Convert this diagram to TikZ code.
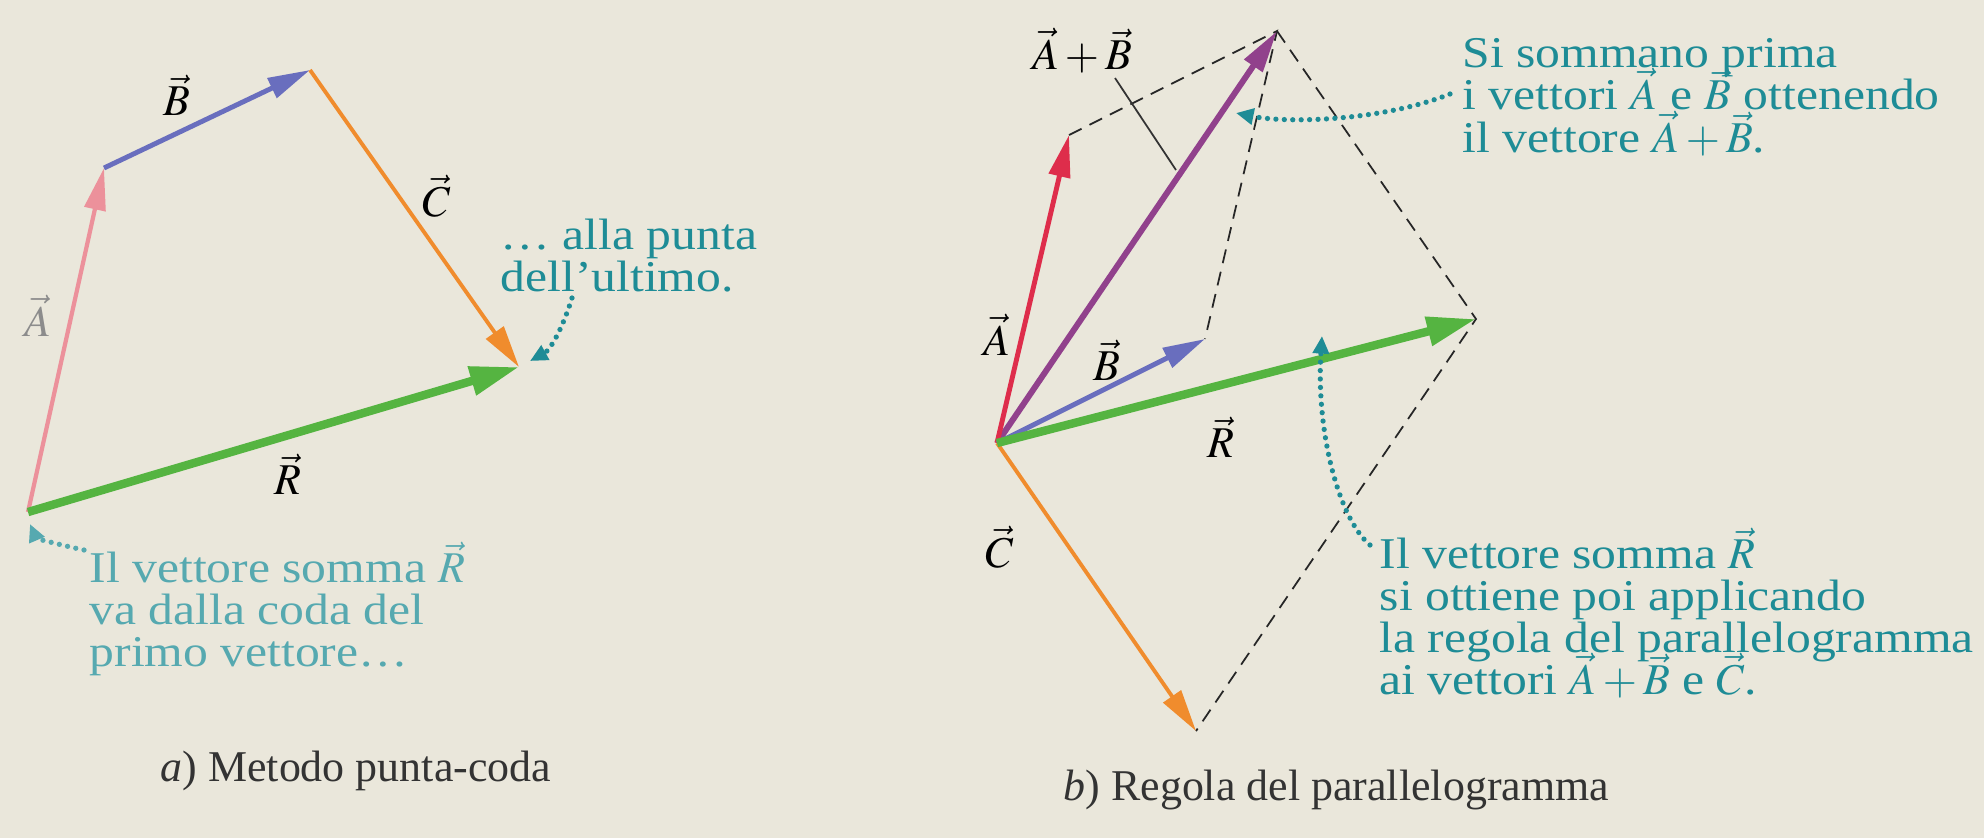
\documentclass[tikz,border=0pt]{standalone}
\usepackage{mathptmx}
\usepackage{fontspec}
\setmainfont{Liberation Serif}
\newfontfamily\widefamily{Liberation Serif}[FakeStretch=1.13]
\usepackage{xcolor}
\usepackage{tikz}
\usetikzlibrary{arrows.meta,calc}

\definecolor{paper}{RGB}{234,231,219}
\definecolor{vecA}{RGB}{222,45,75}
\definecolor{vecApale}{RGB}{236,145,155}
\definecolor{vecB}{RGB}{105,110,190}
\definecolor{vecC}{RGB}{240,140,45}
\definecolor{vecR}{RGB}{85,180,65}
\definecolor{vecS}{RGB}{145,65,140}
\definecolor{notecol}{RGB}{30,140,150}
\newcommand{\notefont}{\widefamily\fontsize{12.5}{12}\selectfont\lineskiplimit=-20pt}
\newcommand{\capfont}{\fontsize{12.5}{12}\selectfont}

\begin{document}
\begin{tikzpicture}[
        x=0.1mm, y=-0.1mm,
        vecarrow/.style={line width=1.4pt, -{Triangle[length=12pt,width=6pt]}},
        sumarrow/.style={line width=2.4pt, -{Triangle[length=14pt,width=8pt]}},
        guideline/.style={black!85, line width=0.5pt, dash pattern=on 4pt off 2.5pt},
        pointer/.style={notecol, line width=1.5pt, line cap=round,
                        dash pattern=on 0pt off 2.4pt, -{Triangle[length=5pt,width=4.5pt]}},
        lbl/.style={font=\capfont, inner sep=0pt},
        notetext/.style={font=\notefont, inner sep=0pt, text=notecol, align=left, anchor=north west},
        caption/.style={lbl, text=black!80, anchor=base west}
    ]
        % paper and frame of the page
        \fill[paper] (0,0) rectangle (1984,838);
        \useasboundingbox (0,0) rectangle (1984,838);

        % a) tip to tail: A, B, C and the sum R
        \coordinate (Oa)  at (28,512);
        \coordinate (Pa1) at ($(Oa)+(76,-344)$);
        \coordinate (Pa2) at ($(Pa1)+(206,-98)$);
        \coordinate (Pa3) at ($(Pa2)+(209,297)$);
        \draw[vecarrow, vecApale, line width=1.2pt] (Oa) -- (Pa1);
        \draw[vecarrow, vecB] (Pa1) -- (Pa2);
        \draw[vecarrow, vecC, line width=1.1pt] (Pa2) -- (Pa3);
        \draw[sumarrow, vecR] (Oa) -- (Pa3);
        \node[lbl, text=black!45] (labAa) at (38,316) {$\vec{A}$};
        \node[lbl] (labBa) at (177,95)  {$\vec{B}$};
        \node[lbl] (labCa) at (437,196) {$\vec{C}$};
        \node[lbl] (labRa) at (288,474) {$\vec{R}$};

        % a) notes
        \node[notetext, text=notecol!75!white] (noteTail) at (89,541)
            {Il vettore somma $\vec{R}$\\va dalla coda del\\primo vettore…};
        \node[notetext] (noteTip) at (500,218) {… alla punta\\dell’ultimo.};
        \coordinate (tailFrom) at (84,550);
        \coordinate (tailTo)   at (30,524);
        \coordinate (tipFrom)  at (572,298);
        \coordinate (tipTo)    at (530,361);
        \draw[pointer, notecol!75!white] (tailFrom) .. controls (60,545) and (36,538) .. (tailTo);
        \draw[pointer] (tipFrom) .. controls (562,330) and (550,350) .. (tipTo);

        % b) parallelogram rule
        \coordinate (Ob)  at (997,443);
        \coordinate (Ab)  at ($(Ob)+(72,-308)$);
        \coordinate (Bb)  at ($(Ob)+(208,-104)$);
        \coordinate (Sb)  at ($(Ab)+(208,-104)$);
        \coordinate (Cb)  at ($(Ob)+(199,288)$);
        \coordinate (Rb)  at ($(Sb)+(199,288)$);
        \draw[guideline] (Ab) -- (Sb) -- (Bb);
        \draw[guideline] (Sb) -- (Rb) -- (Cb);
        \draw[vecarrow, vecS, line width=1.7pt] (Ob) -- (Sb);
        \draw[vecarrow, vecA] (Ob) -- (Ab);
        \draw[vecarrow, vecB] (Ob) -- (Bb);
        \draw[vecarrow, vecC, line width=1.1pt] (Ob) -- (Cb);
        \draw[sumarrow, vecR] (Ob) -- (Rb);
        \node[lbl] (labAb) at (997,335)  {$\vec{A}$};
        \node[lbl] (labBb) at (1107,360) {$\vec{B}$};
        \node[lbl] (labSb) at (1082,51)  {$\vec{A}+\vec{B}$};
        \node[lbl] (labCb) at (1000,547) {$\vec{C}$};
        \node[lbl] (labRb) at (1221,437) {$\vec{R}$};
        \coordinate (leadFrom) at (1115,78);
        \coordinate (leadTo)   at (1176,170);
        \draw[black!80, line width=0.5pt] (leadFrom) -- (leadTo);

        % b) notes
        \node[notetext] (noteSum) at (1462,38)
            {Si sommano prima\\i vettori $\vec{A}$ e $\vec{B}$ ottenendo\\il vettore $\vec{A}+\vec{B}$.};
        \node[notetext] (noteRule) at (1379,527)
            {Il vettore somma $\vec{R}$\\si ottiene poi applicando\\la regola del parallelogramma\\ai vettori $\vec{A}+\vec{B}$ e $\vec{C}$.};
        \coordinate (sumFrom) at (1450,94);
        \coordinate (sumTo)   at (1236,113);
        \coordinate (ruleFrom) at (1370,545);
        \coordinate (ruleTo)   at (1322,336);
        \draw[pointer] (sumFrom) .. controls (1385,120) and (1290,124) .. (sumTo);
        \draw[pointer] (ruleFrom) .. controls (1338,518) and (1316,430) .. (ruleTo);

        % captions
        \node[caption] (capA) at (160,781)  {\textit{a}) Metodo punta-coda};
        \node[caption] (capB) at (1063,800) {\textit{b}) Regola del parallelogramma};
    \end{tikzpicture}
\end{document}
